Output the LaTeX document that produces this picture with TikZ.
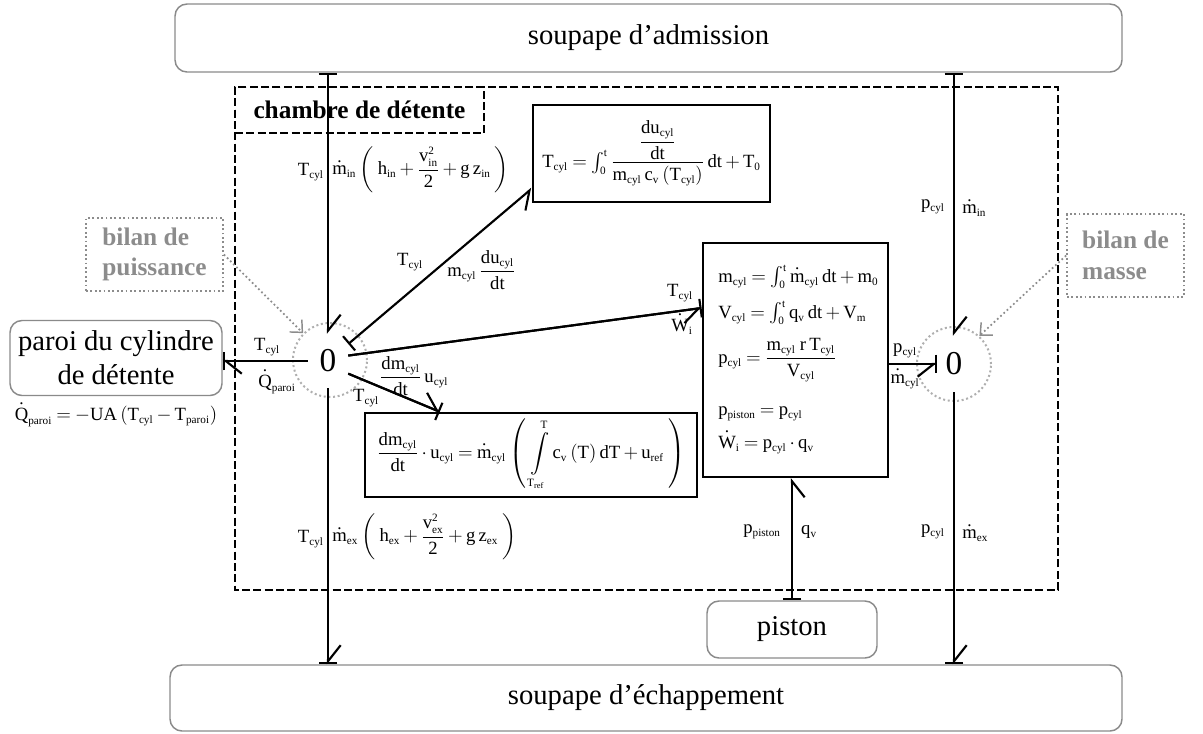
\documentclass[tikz,border=0pt]{standalone}
\usepackage{amsmath}
\usepackage{fontspec}
\setmainfont{Liberation Serif}
\DeclareMathSizes{14}{14}{8.4}{6.3}
\usetikzlibrary{arrows.meta}
\definecolor{bilangray}{HTML}{8C8C8C}
\definecolor{boxgray}{HTML}{8A8A8A}
\newcommand\mdot[1]{{\overset{\mbox{\fontsize{13}{13}\selectfont .}}{#1}}}
\tikzset{
  cbar/.tip={Bar[width=14pt]},
  hbl/.tip={Straight Barb[harpoon,length=12pt,width=19pt]},
  hbr/.tip={Straight Barb[harpoon,swap,length=12pt,width=19pt]},
  roundbox/.style={draw=boxgray, line width=1.1pt, rounded corners=9pt, inner sep=0pt, font=\fontsize{21.5}{26}\selectfont, align=center},
  eqbox/.style={draw=black, line width=1.8pt, inner sep=0pt},
  bond/.style={line width=1.6pt},
  lbl/.style={font=\fontsize{14}{17}\selectfont, inner sep=0pt},
  bilan/.style={draw=bilangray, dotted, line width=1.3pt, text=bilangray, font=\fontsize{19}{23}\selectfont\bfseries, align=left, inner sep=0pt},
  pointer/.style={draw=bilangray, dotted, line width=1.3pt, -{Straight Barb[length=7pt,width=13pt,line width=1.1pt]}},
  junction/.style={font=\fontsize{25}{30}\selectfont, inner sep=0pt, rectangle},
  ring/.style={draw=bilangray!70, dotted, line width=1.5pt, circle, minimum size=55.5pt, inner sep=0pt},
  chamber/.style={draw=black, line width=1.7pt, dash pattern=on 6pt off 2.5pt},
}
\begin{document}
\medmuskip=3mu plus 2mu minus 2mu
\thickmuskip=4mu plus 2mu minus 1mu
\begin{tikzpicture}[x=0.75pt,y=-0.75pt]
\useasboundingbox (0,0) rectangle (1203,733);

% external elements
\node[roundbox, minimum width=710.25pt, minimum height=51pt] (adm) at (648.5,38) {soupape d’admission};
\node[roundbox, minimum width=714pt, minimum height=49.5pt] (ech) at (646,698) {soupape d’échappement};
\node[roundbox, minimum width=159pt, minimum height=56.25pt, font=\fontsize{21.5}{25.5}\selectfont] (paroi) at (116,358) {paroi du cylindre\\de détente};
\node[roundbox, minimum width=127.5pt, minimum height=42.75pt] (piston) at (792,629.5) {piston};

% chamber
\draw[chamber] (235,87) rectangle (1058,590);
\node[chamber, minimum width=186.75pt, minimum height=34.5pt, inner sep=0pt, font=\fontsize{19}{22}\selectfont\bfseries] (chl) at (359.5,110) {chambre de détente};

% annotation boxes
\node[bilan, minimum width=102.75pt, minimum height=54.75pt] (bp) at (154.5,254.5) {bilan de\\puissance};
\node[bilan, minimum width=87.75pt, minimum height=62.25pt] (bm) at (1125.5,255.5) {bilan de\\masse};

% junctions
\node[junction, minimum width=30pt, minimum height=40.5pt] (j1) at (328,361) {0};
\node[ring] (c1) at (330,360) {};
\node[junction, minimum width=25.5pt, minimum height=42pt] (j2) at (954,364) {0};
\node[ring] (c2) at (954,364) {};

% equation boxes
\node[eqbox, minimum width=177.75pt, minimum height=72.75pt] (topeq) at (651.5,153.5) {};
\node[lbl] at (topeq.center) {$\mathrm{T_{cyl}=\int_{0}^{t}\dfrac{\;\dfrac{du_{cyl}}{dt}\;}{m_{cyl}\,c_{v}\left(T_{cyl}\right)}\,dt+T_{0}}$};

\node[eqbox, minimum width=139pt, minimum height=175.5pt] (mideq) at (795.5,360) {};
\node[lbl, anchor=west] at (718,277) {$\mathrm{m_{cyl}=\int_{0}^{t}\mdot{m}_{cyl}\,dt+m_{0}}$};
\node[lbl, anchor=west] at (718,313) {$\mathrm{V_{cyl}=\int_{0}^{t}q_{v}\,dt+V_{m}}$};
\node[lbl, anchor=west] at (718,360) {$\mathrm{p_{cyl}=\dfrac{m_{cyl}\;r\,T_{cyl}}{V_{cyl}}}$};
\node[lbl, anchor=west] at (718,414) {$\mathrm{p_{piston}=p_{cyl}}$};
\node[lbl, anchor=west] at (718,441) {$\mathrm{\mdot{W}_{i}=p_{cyl}\cdot q_{v}}$};

\node[eqbox, minimum width=249pt, minimum height=63pt] (boteq) at (531,455) {};
\node[lbl] at (boteq.center) {$\mathrm{\dfrac{dm_{cyl}}{dt}\cdot u_{cyl}=\mdot{m}_{cyl}\left(\;\displaystyle\int\limits_{T_{ref}}^{T}c_{v}\left(T\right)dT+u_{ref}\;\right)}$};

\node[lbl] (qparoi) at (116,414) {$\mathrm{\mdot{Q}_{paroi}=-UA\left(T_{cyl}-T_{paroi}\right)}$};

% bonds
\draw[bond,cbar-hbl] (adm.south -| j1.north) -- (j1.north);
\draw[bond,-hbl] (j1.south) -- (j1.south |- ech.north);
\draw[bond,-cbar] (j1.south) -- (j1.south |- ech.north);
\draw[bond,cbar-hbl] (adm.south -| j2.north) -- (j2.north);
\draw[bond,-hbl] (j2.south) -- (j2.south |- ech.north);
\draw[bond,-cbar] (j2.south) -- (j2.south |- ech.north);
\draw[bond,-hbl] (j1.west) -- (j1.west -| paroi.east);
\draw[bond,-cbar] (j1.west) -- (j1.west -| paroi.east);
\draw[bond,cbar-hbr] (j1.40) -- ([yshift=11pt]topeq.south west);
\draw[bond,-hbr] (j1.15) -- ([yshift=39pt]mideq.west);
\draw[bond,-cbar] (j1.15) -- ([yshift=39pt]mideq.west);
\draw[bond,-hbl] (j1.-32) -- ([xshift=57pt]boteq.north west);
\draw[bond,-cbar] (j1.-32) -- ([xshift=57pt]boteq.north west);
\draw[bond,-hbr] (mideq.east |- j2.west) -- (j2.west);
\draw[bond,-cbar] (mideq.east |- j2.west) -- (j2.west);
\draw[bond,cbar-hbr] (piston.north) -- (piston.north |- mideq.south);

% pointers
\draw[pointer] (bp.east) -- (c1.135);
\draw[pointer] (bm.west) -- (c2.48);

% bond labels
\node[lbl, anchor=east] at (324,172) {$\mathrm{T_{cyl}}$};
\node[lbl, anchor=west] at (332,170) {$\mathrm{\mdot{m}_{in}\left(\;h_{in}+\dfrac{v_{in}^{2}}{2}+g\,z_{in}\;\right)}$};
\node[lbl, anchor=east] at (324,539) {$\mathrm{T_{cyl}}$};
\node[lbl, anchor=west] at (332,537) {$\mathrm{\mdot{m}_{ex}\left(\;h_{ex}+\dfrac{v_{ex}^{2}}{2}+g\,z_{ex}\;\right)}$};
\node[lbl] at (410,262) {$\mathrm{T_{cyl}}$};
\node[lbl, anchor=west] at (447,270) {$\mathrm{m_{cyl}\,\dfrac{du_{cyl}}{dt}}$};
\node[lbl] at (680,293) {$\mathrm{T_{cyl}}$};
\node[lbl] at (682,323) {$\mathrm{\mdot{W}_{i}}$};
\node[lbl] at (414,376) {$\mathrm{\dfrac{dm_{cyl}}{dt}\,u_{cyl}}$};
\node[lbl] at (366,398) {$\mathrm{T_{cyl}}$};
\node[lbl] at (267,347) {$\mathrm{T_{cyl}}$};
\node[lbl] at (277,381) {$\mathrm{\mdot{Q}_{paroi}}$};
\node[lbl] at (905,351) {$\mathrm{p_{cyl}}$};
\node[lbl] at (905,378) {$\mathrm{\mdot{m}_{cyl}}$};
\node[lbl] at (762,532) {$\mathrm{p_{piston}}$};
\node[lbl] at (809,532) {$\mathrm{q_{v}}$};
\node[lbl, anchor=east] at (945,207) {$\mathrm{p_{cyl}}$};
\node[lbl, anchor=west] at (962,207) {$\mathrm{\mdot{m}_{in}}$};
\node[lbl, anchor=east] at (945,532) {$\mathrm{p_{cyl}}$};
\node[lbl, anchor=west] at (962,532) {$\mathrm{\mdot{m}_{ex}}$};
\end{tikzpicture}
\end{document}
